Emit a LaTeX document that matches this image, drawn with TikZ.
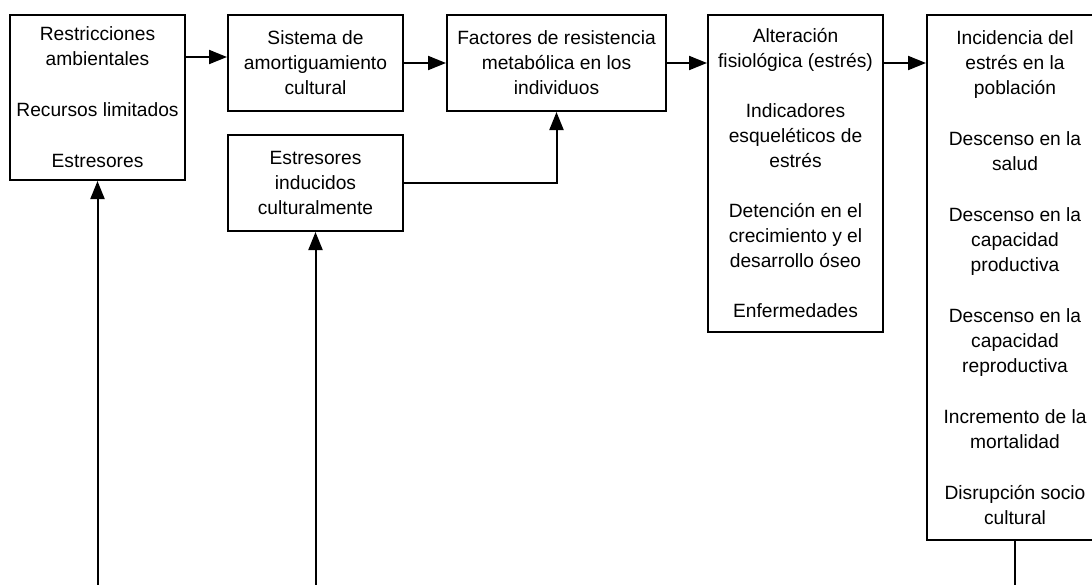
\documentclass[tikz,border=0pt]{standalone}
\usepackage{fontspec}
\setmainfont{Liberation Sans}
\usetikzlibrary{positioning,arrows.meta}

\begin{document}
\begin{tikzpicture}[x=1pt,y=-1pt,
    caja/.style={draw,line width=2pt,align=center,inner sep=0pt,font=\fontsize{19.2}{25}\selectfont},
    flecha/.style={line width=2pt,-{Triangle[length=18pt,width=14pt]}},
    linea/.style={line width=2pt}]
    \useasboundingbox (0,0) rectangle (1092,584);
    \clip (0,0) rectangle (1092,584);
    \node[caja,minimum width=175pt,minimum height=165pt] (restr) at (97.5,97.5) {Restricciones\\ambientales\\[26pt]Recursos limitados\\[26pt]Estresores};
    \node[caja,minimum width=175pt,minimum height=96pt] (amort) at (315.5,63) {Sistema de\\amortiguamiento\\cultural};
    \node[caja,minimum width=175pt,minimum height=96pt] (induc) at (315.5,183) {Estresores\\inducidos\\culturalmente};
    \node[caja,minimum width=219pt,minimum height=96pt] (factor) at (556.5,63) {Factores de resistencia\\metabólica en los\\individuos};
    \node[caja,minimum width=175pt,minimum height=317pt] (alter) at (795.5,173.5) {Alteración\\fisiológica (estrés)\\[25pt]Indicadores\\esqueléticos de\\estrés\\[25pt]Detención en el\\crecimiento y el\\desarrollo óseo\\[25pt]Enfermedades};
    \node[caja,minimum width=176pt,minimum height=525pt] (incid) at (1015,277.5) {Incidencia del\\estrés en la\\población\\[26pt]Descenso en la\\salud\\[26pt]Descenso en la\\capacidad\\productiva\\[26pt]Descenso en la\\capacidad\\reproductiva\\[26pt]Incremento de la\\mortalidad\\[26pt]Disrupción socio\\cultural};
    \coordinate (in1) at (97.5,590);
    \coordinate (in2) at (315.5,590);
    \coordinate (out) at (1015,590);
    \draw[flecha] ([yshift=40.5pt]restr.east) -- ([yshift=40.5pt]restr.east -| amort.west);
    \draw[flecha] (amort.east) -- (factor.west);
    \draw[flecha] (factor.east) -- (factor.east -| alter.west);
    \draw[flecha] (factor.east -| alter.east) -- (factor.east -| incid.west);
    \draw[flecha] (induc.east) -| (factor.south);
    \draw[flecha] (in1) -- (restr.south);
    \draw[flecha] (in2) -- (induc.south);
    \draw[linea] (incid.south) -- (out);
\end{tikzpicture}
\end{document}
